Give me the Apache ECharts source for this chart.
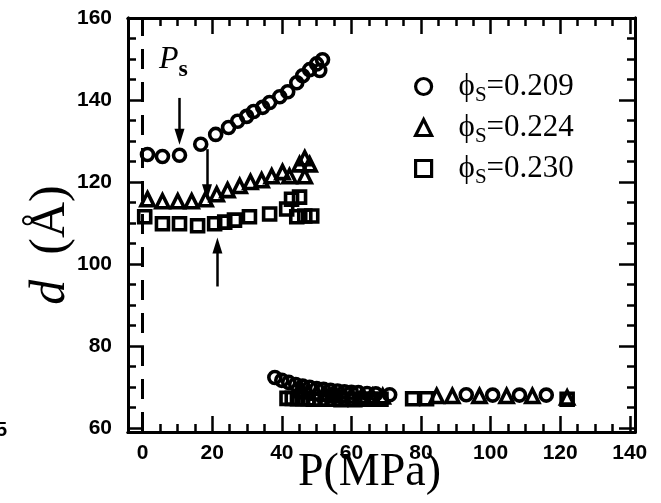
<!DOCTYPE html>
<html>
<head>
<meta charset="utf-8">
<script src="https://cdn.jsdelivr.net/npm/echarts@6/dist/echarts.min.js"></script>
<style>
html, body { margin: 0; padding: 0; background: #fff; }
#chart { width: 661px; height: 503px; }
</style>
</head>
<body onload="onload()">
<div id="chart"></div>
<script>
// P (MPa), d (Angstrom)
var phi209 = [ [ 1.4, 126.7 ], [ 5.7, 126.2 ], [ 10.6, 126.5 ], [ 16.7, 129.2 ],
	[ 21, 131.6 ], [ 24.7, 133.3 ], [ 27.3, 134.8 ], [ 29.9, 136 ], [ 31.9, 137.2 ],
	[ 34.5, 138.2 ], [ 36.5, 139.4 ], [ 39.4, 140.8 ], [ 41.7, 142 ], [ 44.3, 144.2 ],
	[ 46, 145.9 ], [ 48, 147.4 ], [ 50, 148.8 ], [ 50.9, 147.2 ], [ 51.7, 149.8 ],
	[ 38, 72.3 ], [ 40, 71.6 ], [ 42, 71.1 ], [ 44, 70.6 ], [ 46, 70.2 ], [ 48, 69.9 ],
	[ 50, 69.6 ], [ 52, 69.4 ], [ 54, 69.2 ], [ 56, 69 ], [ 58, 68.8 ], [ 60, 68.7 ],
	[ 62, 68.6 ], [ 64.5, 68.4 ], [ 67, 68.3 ], [ 71, 68.1 ], [ 93, 68.1 ],
	[ 100.6, 68 ], [ 108.3, 68 ], [ 116, 68 ] ];
var phi224 = [ [ 1.4, 115.8 ], [ 5.7, 115.3 ], [ 10.1, 115.3 ], [ 14.1, 115.3 ],
	[ 18.1, 115.8 ], [ 21.3, 117 ], [ 24.4, 118 ], [ 27.9, 119 ], [ 31, 120 ],
	[ 34.2, 120.4 ], [ 37.1, 121.4 ], [ 40.2, 122.4 ], [ 42.2, 121.4 ], [ 45.1, 124.3 ],
	[ 46.6, 125.8 ], [ 48, 124.3 ], [ 46.6, 121.4 ],
	[ 45, 69.2 ], [ 47.5, 68.9 ], [ 50, 68.6 ], [ 52.5, 68.3 ], [ 55, 68.1 ],
	[ 57.5, 68 ], [ 60, 67.9 ], [ 63, 67.8 ], [ 66, 67.7 ], [ 69, 67.7 ],
	[ 84.5, 67.8 ], [ 89, 67.8 ], [ 96.8, 67.8 ], [ 104.6, 67.8 ], [ 112, 67.8 ],
	[ 122, 67.4 ] ];
var phi230 = [ [ 0.6, 111.5 ], [ 5.7, 109.8 ], [ 10.6, 109.8 ], [ 15.8, 109.3 ],
	[ 20.7, 109.8 ], [ 23.6, 110.2 ], [ 26.4, 110.7 ], [ 30.7, 111.5 ], [ 36.5, 112.2 ],
	[ 41.4, 113.4 ], [ 42.8, 115.8 ], [ 45.1, 116.3 ], [ 44.3, 111.5 ], [ 46.6, 111.7 ],
	[ 48.6, 111.7 ],
	[ 41.5, 67.2 ], [ 43, 67.2 ], [ 44.5, 67.1 ], [ 46, 67.1 ], [ 47.5, 67.1 ],
	[ 49, 67 ], [ 51, 67 ], [ 53, 67 ], [ 55, 67 ], [ 57, 66.9 ], [ 59, 67 ],
	[ 61, 66.9 ], [ 63.5, 67 ], [ 66, 67 ], [ 68.5, 67 ], [ 77.6, 67.1 ],
	[ 81.6, 67.1 ], [ 122, 67 ] ];

var seriesNames = [ '0.209', '0.224', '0.230' ];
var xLabels = [ 0, 20, 40, 60, 80, 100, 120, 140 ];
var yLabels = [ 60, 80, 100, 120, 140, 160 ];
var xMinor = [ 5, 10, 15, 25, 30, 35, 45, 50, 55, 65, 70, 75, 85, 90, 95, 105,
	110, 115, 125, 130, 135 ];
var yMinor = [ 65, 70, 75, 85, 90, 95, 105, 110, 115, 125, 130, 135, 145, 150, 155 ];
// arrows: [P, d from] -> [P, d to]
var arrows = [ [ [ 10.6, 140.5 ], [ 10.6, 131 ] ], [ [ 18.5, 128 ], [ 18.5, 117.5 ] ],
	[ [ 21.5, 94.5 ], [ 21.5, 104.5 ] ] ];

var black = '#000';
var graph;

function makeAxis(pos, min, max, ticks, len, labels) {
	return {
		type : 'value',
		position : pos,
		min : min,
		max : max,
		axisLine : {
			show : true,
			onZero : false,
			lineStyle : { color : black, width : 3 }
		},
		axisTick : {
			show : true,
			inside : true,
			length : len,
			customValues : ticks,
			lineStyle : { color : black, width : 2.5 }
		},
		axisLabel : {
			show : !!labels,
			customValues : labels || [],
			color : black,
			fontFamily : 'Liberation Sans',
			fontWeight : 'bold',
			fontSize : 21,
			margin : (pos == 'left' ? 16 : 11)
		},
		minorTick : { show : false },
		splitLine : { show : false }
	};
}

function buildOption() {
	var xMain = makeAxis('bottom', -4.2, 141.5, xLabels, 16, xLabels);
	xMain.name = 'P(MPa)';
	xMain.nameLocation = 'middle';
	xMain.nameGap = 18;
	xMain.nameMoveOverlap = false;
	xMain.nameTextStyle = {
		fontFamily : 'Liberation Serif',
		fontSize : 46,
		color : black,
		padding : [ 0, 24, 0, 0 ]
	};
	var yMain = makeAxis('left', 59, 160, yLabels, 16, yLabels);
	yMain.name = '{i|d}  (Å)';
	yMain.nameLocation = 'middle';
	yMain.nameGap = 52;
	yMain.nameMoveOverlap = false;
	yMain.nameTextStyle = {
		fontFamily : 'Liberation Serif',
		fontSize : 50,
		color : black,
		padding : [ 0, 40, 0, 0 ],
		rich : {
			i : {
				fontFamily : 'Liberation Serif',
				fontStyle : 'italic',
				fontSize : 50,
				color : black
			}
		}
	};

	var arrowData = [];
	arrows.forEach(function(a) {
		arrowData.push([ { coord : a[0] }, { coord : a[1] } ]);
	});

	var symbols = [ 'circle', 'triangle', 'rect' ];
	var sizes = [ 12, 13, 12 ];
	var datas = [ phi209, phi224, phi230 ];
	var series = [];
	for (var i = 0; i < 3; i++) {
		series.push({
			name : seriesNames[i],
			type : 'scatter',
			symbol : symbols[i],
			symbolSize : sizes[i],
			data : datas[i],
			itemStyle : {
				color : 'rgba(0,0,0,0)',
				borderColor : black,
				borderWidth : 3.6,
				opacity : 1
			},
			emphasis : { disabled : true },
			animation : false
		});
	}
	// arrows marking P_s
	series[0].markLine = {
		silent : true,
		animation : false,
		symbol : [ 'none', 'triangle' ],
		symbolSize : [ 10, 16 ],
		label : { show : false },
		lineStyle : { color : black, width : 2.5, type : 'solid', opacity : 1 },
		data : arrowData
	};
	// dashed line at P = 0
	series[1].markLine = {
		silent : true,
		animation : false,
		symbol : [ 'none', 'none' ],
		label : { show : false },
		lineStyle : { color : black, width : 3, type : [ 20, 13 ], opacity : 1 },
		data : [ { xAxis : 0 } ]
	};

	return {
		backgroundColor : '#fff',
		animation : false,
		grid : {
			left : 128,
			right : 26,
			top : 18,
			bottom : 71,
			outerBoundsMode : 'none'
		},
		legend : {
			data : seriesNames,
			orient : 'vertical',
			left : 409,
			top : 66,
			itemWidth : 16,
			itemHeight : 16,
			itemGap : 6,
			itemStyle : { borderWidth : 3.2, borderColor : black, opacity : 1 },
			formatter : function(name) {
				return '{p|ϕ}{s|S}{t|=' + name + '}';
			},
			textStyle : {
				color : black,
				padding : [ 0, 0, 0, 22 ],
				rich : {
					p : { fontFamily : 'Liberation Serif', fontSize : 31, color : black, lineHeight : 32 },
					s : { fontFamily : 'Liberation Serif', fontSize : 21, color : black, padding : [ 18, 0, 0, 0 ] },
					t : { fontFamily : 'Liberation Serif', fontSize : 31, color : black, lineHeight : 32 }
				}
			}
		},
		xAxis : [ xMain, makeAxis('bottom', -4.2, 141.5, xMinor, 8),
			makeAxis('top', -4.2, 141.5, xLabels, 16),
			makeAxis('top', -4.2, 141.5, xMinor, 8) ],
		yAxis : [ yMain, makeAxis('left', 59, 160, yMinor, 8),
			makeAxis('right', 59, 160, yLabels, 16),
			makeAxis('right', 59, 160, yMinor, 8) ],
		graphic : [ {
			type : 'text',
			left : 159,
			top : 44,
			style : {
				text : '{p|P}{s|s}',
				fill : black,
				rich : {
					p : { fontFamily : 'Liberation Serif', fontStyle : 'italic', fontSize : 32, fill : black },
					s : { fontFamily : 'Liberation Serif', fontWeight : 'bold', fontSize : 24, fill : black, padding : [ 20, 0, 0, 0 ] }
				}
			}
		}, {
			type : 'text',
			left : -4,
			top : 420,
			style : {
				text : '5',
				fill : black,
				font : 'bold 20px "Liberation Sans"'
			}
		} ],
		series : series
	};
}

function onload() {
	graph = echarts.init(document.getElementById('chart'));
	graph.setOption(buildOption());
}
</script>
</body>
</html>
